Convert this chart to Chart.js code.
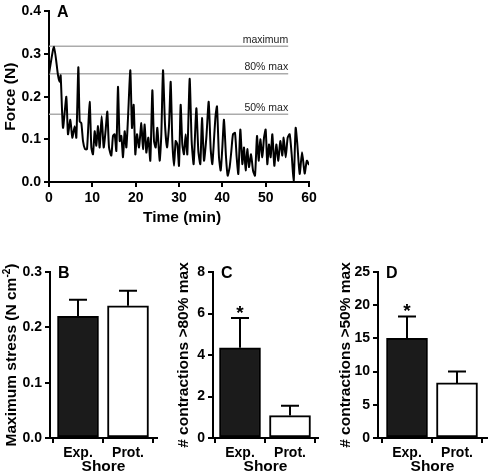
<!DOCTYPE html>
<html><head><meta charset="utf-8">
<script src="https://cdn.jsdelivr.net/npm/chart.js@4"></script>
<style>
html,body{margin:0;padding:0;background:#fff}
body{width:488px;height:473px;position:relative;overflow:hidden}
canvas{position:absolute}
</style></head><body>
<canvas id="pa" width="330" height="240" style="left:0;top:0"></canvas>
<canvas id="pb" width="165" height="223" style="left:0;top:250px"></canvas>
<canvas id="pc" width="163" height="223" style="left:165px;top:250px"></canvas>
<canvas id="pd" width="160" height="223" style="left:328px;top:250px"></canvas>
<script>
// ---------- data ----------
const timeMin = [0,1.15,2.08,2.46,2.69,3.23,4.0,4.38,4.92,5.38,
5.92,6.31,6.77,7.08,7.46,7.85,8.31,8.77,9.38,9.77,
10.15,10.54,10.92,11.31,11.69,12.15,12.62,13.08,13.46,13.85,
14.38,14.77,15.15,15.54,15.92,16.31,16.69,17.08,17.46,17.85,
18.23,18.77,19.15,19.54,19.92,20.31,20.77,21.31,21.69,22.08,
22.46,22.92,23.38,23.85,24.23,24.62,25.0,25.54,25.92,26.31,
26.77,27.23,27.69,28.08,28.46,28.85,29.23,29.62,30.0,30.38,
30.77,31.15,31.54,31.92,32.46,32.92,33.38,34.0,34.46,34.92,
35.31,35.77,36.31,36.85,37.31,37.69,38.15,38.46,38.77,39.23,
39.62,40.0,40.38,40.85,41.23,41.69,42.08,42.46,42.92,43.31,
43.69,44.15,44.62,45.0,45.38,45.77,46.15,46.62,47.08,47.54,
48.0,48.38,48.77,49.23,49.62,50.0,50.38,50.77,51.15,51.54,
52.0,52.46,52.92,53.38,53.85,54.15,54.62,55.08,55.54,56.0,
56.46,56.92,57.31,57.85,58.4,59.0,59.5,60.0];
const forceN = [0.254,0.317,0.25,0.235,0.25,0.127,0.2,0.112,0.146,0.104,
0.131,0.104,0.269,0.142,0.138,0.096,0.077,0.077,0.188,0.081,
0.065,0.119,0.085,0.131,0.081,0.154,0.081,0.123,0.165,0.081,
0.062,0.108,0.112,0.073,0.223,0.096,0.108,0.058,0.119,0.081,
0.15,0.262,0.127,0.181,0.065,0.112,0.081,0.138,0.077,0.135,
0.069,0.104,0.05,0.215,0.096,0.081,0.127,0.05,0.112,0.262,
0.135,0.081,0.131,0.235,0.096,0.038,0.096,0.088,0.038,0.181,
0.088,0.065,0.112,0.065,0.242,0.096,0.042,0.173,0.073,0.042,
0.15,0.05,0.104,0.188,0.077,0.042,0.112,0.158,0.177,0.058,
0.027,0.081,0.146,0.058,0.015,0.035,0.073,0.112,0.115,0.058,
0.019,0.123,0.042,0.081,0.027,0.077,0.035,0.065,0.027,0.015,
0.108,0.05,0.1,0.058,0.104,0.123,0.042,0.088,0.058,0.112,
0.038,0.088,0.05,0.096,0.062,0.104,0.058,0.104,0.112,0.065,
0.0,0.127,0.088,0.019,0.07,0.02,0.05,0.04];
const refLabels = ['maximum','80% max','50% max'];
const refValues = [0.318,0.254,0.159];
const refEndMin = 55.2;
const forceTicks = ['0.0','0.1','0.2','0.3','0.4'];
const timeTicks = ['0','10','20','30','40','50','60'];

const shoreLabels = ['Exp.','Prot.'];
const stressMean = [0.220,0.239];
const stressSem  = [0.030,0.027];
const stressSig  = ['',''];
const stressTicks = ['0.0','0.1','0.2','0.3'];

const c80Mean = [4.35,1.08];
const c80Sem  = [1.43,0.47];
const c80Sig  = ['*',''];
const c80Ticks = ['0','2','4','6','8'];

const c50Mean = [15.0,8.3];
const c50Sem  = [3.3,1.7];
const c50Sig  = ['*',''];
const c50Ticks = ['0','5','10','15','20','25'];

// ---------- helpers ----------
const FONT = "'Liberation Sans', Arial, Helvetica, sans-serif";
Chart.defaults.font.family = FONT;
Chart.defaults.color = '#000';

function axisStyle(extra){
  return Object.assign({
    grid:{drawOnChartArea:false, color:'#000', tickColor:'#000', lineWidth:2, tickWidth:2, tickLength:5},
    border:{color:'#000', width:2}
  }, extra);
}

function drawYTitle(ctx, x, cy, parts){
  ctx.save();
  ctx.translate(x, cy);
  ctx.rotate(-Math.PI/2);
  ctx.fillStyle = '#000';
  ctx.textBaseline = 'middle';
  let total = 0;
  parts.forEach(p=>{ ctx.font = 'bold '+p.size+'px '+FONT; p.w = ctx.measureText(p.t).width; total += p.w; });
  let pos = -total/2;
  ctx.textAlign = 'left';
  parts.forEach(p=>{ ctx.font = 'bold '+p.size+'px '+FONT; ctx.fillText(p.t, pos, p.dy||0); pos += p.w; });
  ctx.restore();
}

function panelPlugin(cfg){
  return {
    id:'panel'+cfg.letter,
    afterDatasetsDraw(chart){
      const ctx = chart.ctx, x = chart.scales.x, y = chart.scales.y;
      if (cfg.mean){
        ctx.save();
        ctx.strokeStyle = '#000'; ctx.lineWidth = 2;
        cfg.mean.forEach((m,i)=>{
          const px = x.getPixelForValue(i);
          const yTop = y.getPixelForValue(m + cfg.sem[i]);
          const yM = y.getPixelForValue(m);
          ctx.beginPath();
          ctx.moveTo(px, yM); ctx.lineTo(px, yTop);
          ctx.moveTo(px-9, yTop); ctx.lineTo(px+9, yTop);
          ctx.stroke();
          if (cfg.sig[i]){
            ctx.fillStyle = '#000';
            ctx.font = 'bold 19px '+FONT;
            ctx.textAlign = 'center'; ctx.textBaseline = 'alphabetic';
            ctx.fillText(cfg.sig[i], px, yTop + 1);
          }
        });
        ctx.restore();
      }
    },
    afterDraw(chart){
      const ctx = chart.ctx, a = chart.chartArea;
      ctx.save();
      ctx.fillStyle = '#000';
      ctx.font = 'bold 16px '+FONT;
      ctx.textAlign = 'left'; ctx.textBaseline = 'alphabetic';
      ctx.fillText(cfg.letter, a.left + 8, a.top + 6);
      ctx.font = 'bold 15.5px '+FONT;
      ctx.textAlign = 'center'; ctx.textBaseline = 'middle';
      ctx.fillText(cfg.xTitle, (a.left + a.right)/2 + (cfg.xTitleShift||0), a.bottom + cfg.xTitleDy);
      ctx.restore();
      drawYTitle(ctx, a.left + cfg.yTitleDx, (a.top + a.bottom)/2 + (cfg.yTitleShift||0), cfg.yTitle);
      if (cfg.extra) cfg.extra(chart);
    }
  };
}

// ---------- Panel A ----------
const refDatasets = refValues.map(v=>({
  data:[{x:0,y:v},{x:refEndMin,y:v}],
  borderColor:'#ababab', borderWidth:1.5, pointRadius:0, order:2
}));
new Chart(document.getElementById('pa'), {
  type:'line',
  data:{datasets:[
    {data: timeMin.map((t,i)=>({x:t,y:forceN[i]})), borderColor:'#000', borderWidth:2,
     pointRadius:0, tension:0.2, order:1},
    ...refDatasets
  ]},
  options:{
    responsive:false, animation:false, events:[],
    layout:{padding:{top:8,right:21,left:0,bottom:0}},
    plugins:{legend:{display:false}, tooltip:{enabled:false}},
    scales:{
      x: axisStyle({type:'linear', min:0, max:60,
        ticks:{stepSize:10, padding:3, font:{size:14,weight:'bold'}, color:'#000',
               callback:(v,i)=>timeTicks[i]},
        afterFit:s=>{s.height = 58;}}),
      y: axisStyle({min:0, max:0.4,
        ticks:{stepSize:0.1, padding:3, font:{size:14,weight:'bold'}, color:'#000',
               callback:(v,i)=>forceTicks[i]},
        afterFit:s=>{s.width = 49;}})
    }
  },
  plugins:[panelPlugin({letter:'A', xTitle:'Time (min)', xTitleDy:36, xTitleShift:3,
    yTitleDx:-38, yTitle:[{t:'Force (N)', size:15.5}],
    extra(chart){
      const ctx = chart.ctx, x = chart.scales.x, y = chart.scales.y;
      ctx.save();
      ctx.fillStyle = '#222';
      ctx.font = '10.5px '+FONT;
      ctx.textAlign = 'right'; ctx.textBaseline = 'alphabetic';
      refValues.forEach((v,i)=>{
        ctx.fillText(refLabels[i], x.getPixelForValue(refEndMin), y.getPixelForValue(v) - 3.5);
      });
      ctx.restore();
    }})]
});

// ---------- bar panels ----------
function barPanel(id, cfg){
  new Chart(document.getElementById(id), {
    type:'bar',
    data:{datasets:[{
      data: cfg.mean.map((m,i)=>({x:i, y:m})),
      backgroundColor:['#1b1b1b','#ffffff'], borderColor:'#000', borderWidth:2,
      borderSkipped:false, barThickness:41
    }]},
    options:{
      responsive:false, animation:false, events:[],
      layout:{padding:{top:22,right:cfg.padRight,left:0,bottom:0}},
      plugins:{legend:{display:false}, tooltip:{enabled:false}},
      scales:{
        x: axisStyle({type:'linear', min:cfg.xMin, max:cfg.xMax, offset:false,
          afterBuildTicks:s=>{ s.ticks = cfg.mean.map((m,i)=>({value:i})); },
          ticks:{padding:2, font:{size:14,weight:'bold'}, color:'#000',
                 callback:(v)=>shoreLabels[v]},
          afterFit:s=>{s.height = 35;}}),
        y: axisStyle({min:0, max:cfg.yMax,
          ticks:{stepSize:cfg.step, padding:3, font:{size:14,weight:'bold'}, color:'#000',
                 callback:(v,i)=>cfg.ticks[i]},
          afterFit:s=>{s.width = cfg.axisLeft;}})
      }
    },
    plugins:[panelPlugin({letter:cfg.letter, xTitle:'Shore', xTitleDy:29,
      yTitleDx:cfg.yTitleDx, yTitle:cfg.yTitle, mean:cfg.mean, sem:cfg.sem, sig:cfg.sig})]
  });
}

barPanel('pb', {letter:'B', mean:stressMean, sem:stressSem, sig:stressSig, ticks:stressTicks,
  yMax:0.3, step:0.1, axisLeft:50, padRight:8, xMin:-0.56, xMax:1.58, yTitleDx:-38,
  yTitle:[{t:'Maximum stress (N cm',size:15.5},{t:'-2',size:10,dy:-5},{t:')',size:15.5}]});
barPanel('pc', {letter:'C', mean:c80Mean, sem:c80Sem, sig:c80Sig, ticks:c80Ticks,
  yMax:8, step:2, axisLeft:48, padRight:10, xMin:-0.54, xMax:1.56, yTitleDx:-29,
  yTitle:[{t:'# contractions >80% max',size:15.5}]});
barPanel('pd', {letter:'D', mean:c50Mean, sem:c50Sem, sig:c50Sig, ticks:c50Ticks,
  yMax:25, step:5, axisLeft:50, padRight:1, xMin:-0.58, xMax:1.6, yTitleDx:-32,
  yTitle:[{t:'# contractions >50% max',size:15.5}]});
</script>
</body></html>
